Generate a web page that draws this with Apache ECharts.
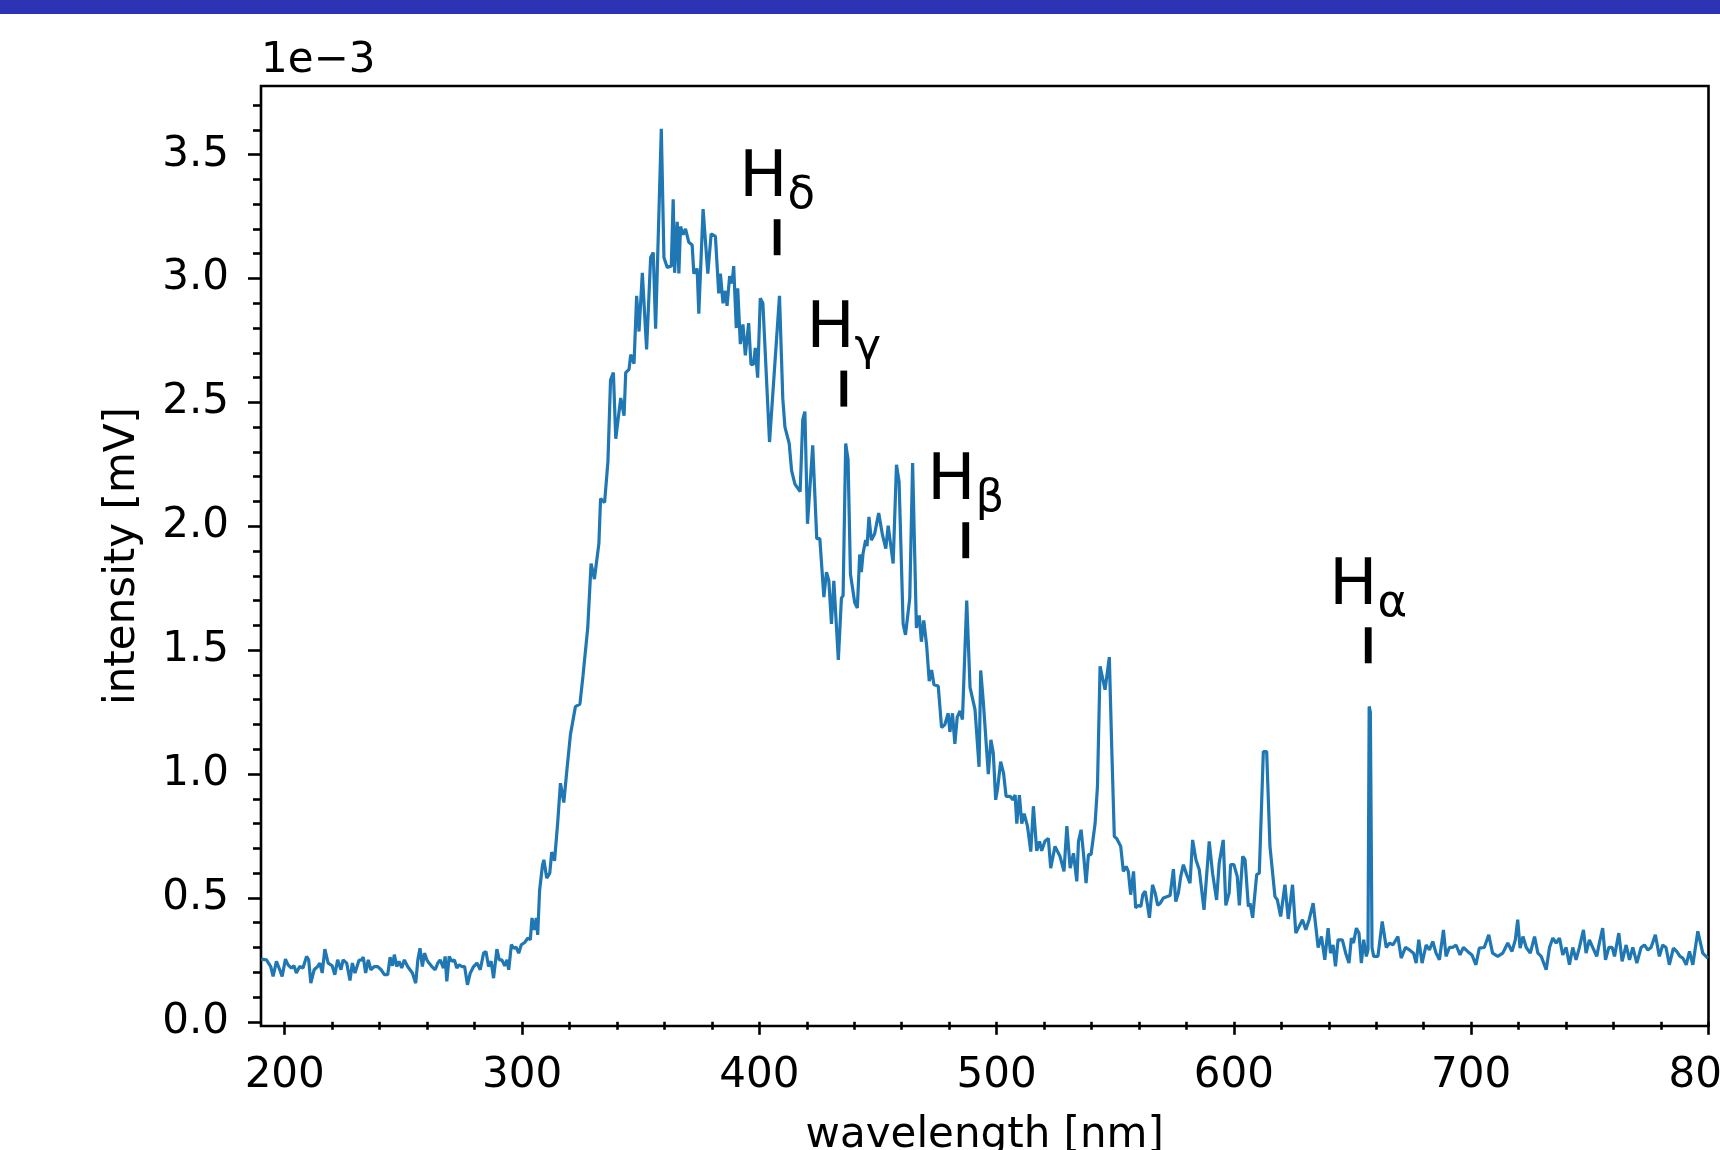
<!DOCTYPE html>
<html><head><meta charset="utf-8">
<script src="https://cdn.jsdelivr.net/npm/echarts@6/dist/echarts.min.js"></script>
<style>html,body{margin:0;padding:0;background:#fff}#c{width:1720px;height:1150px}</style>
</head><body><div id="c"></div>
<script>
// wavelength in nm
const wavelength = [
190.1,192.3,194.1,195.1,196.5,197.9,198.9,200.3,201.4,202.8,
203.9,204.9,206.3,207.7,209.2,210.1,211.0,212.4,213.8,214.8,
215.8,216.9,218.3,220.0,221.1,222.3,223.7,224.6,226.1,227.5,
228.5,229.6,231.3,232.4,233.1,234.1,235.2,236.3,237.7,239.2,
240.6,242.0,243.4,244.4,245.4,246.2,247.2,248.2,249.3,250.4,
251.8,252.8,253.8,255.2,256.1,257.0,258.0,258.9,259.9,260.8,
262.0,263.4,264.5,265.5,266.9,267.6,268.3,269.3,270.4,271.5,
272.5,273.5,274.6,275.8,277.0,278.2,279.6,281.0,282.4,283.8,
284.8,285.9,287.0,288.0,289.4,290.4,291.5,292.7,293.7,294.4,
295.5,296.5,297.5,298.6,299.7,301.1,302.5,303.5,304.2,305.2,
306.0,306.6,307.4,308.6,309.2,310.4,311.7,312.5,313.7,315.0,
316.2,317.6,319.0,320.4,322.5,324.4,325.7,327.7,329.1,330.5,
332.4,333.1,334.8,336.2,337.3,338.5,339.5,341.6,343.0,343.7,
345.1,345.8,347.2,348.3,349.3,350.7,352.5,354.2,355.3,356.3,
358.7,359.8,361.2,362.9,363.7,364.3,365.4,366.1,366.8,367.9,
368.9,370.3,371.7,372.4,373.8,374.5,376.3,378.3,379.7,381.5,
382.9,383.6,384.7,385.7,386.4,387.5,388.5,389.2,390.3,390.9,
392.0,393.1,394.1,395.5,396.5,397.6,398.3,399.3,400.4,401.5,
404.3,408.5,409.9,410.8,412.6,413.6,415.0,417.2,418.3,419.2,
420.3,422.5,424.2,425.5,427.2,428.3,429.3,430.4,431.4,433.3,
434.6,435.3,436.4,437.4,438.4,440.2,441.3,442.3,443.0,443.7,
444.8,445.4,446.2,447.2,448.6,450.3,451.9,453.3,454.3,455.2,
456.4,457.8,458.9,460.6,461.6,463.4,464.6,465.5,466.2,467.4,
468.3,469.3,470.5,471.6,472.6,473.6,475.4,476.8,478.2,479.6,
480.3,481.4,482.4,483.4,484.6,485.6,487.4,488.8,490.9,492.6,
493.3,494.4,496.5,497.6,498.6,499.6,500.4,501.7,502.9,504.0,
505.7,506.8,507.8,508.5,509.6,510.6,511.6,513.0,514.4,515.5,
516.9,518.1,519.0,520.4,521.8,522.8,524.6,526.7,528.4,529.6,
531.0,532.4,533.8,534.5,535.6,536.6,537.7,538.7,539.8,541.5,
542.5,543.6,545.7,547.5,548.5,549.6,550.6,552.3,553.4,554.6,
555.5,556.5,557.7,558.6,559.8,560.8,561.6,562.6,563.6,564.4,
565.7,566.8,567.9,568.9,570.3,571.7,573.1,574.5,575.5,576.6,
577.6,578.7,580.1,581.5,582.6,584.0,585.4,587.4,589.6,591.0,
592.7,593.8,595.5,596.6,598.0,598.6,600.0,601.4,602.3,603.7,
604.7,606.1,606.8,607.9,609.6,610.7,612.4,613.8,615.2,617.3,
618.3,619.7,621.5,622.9,624.7,626.1,627.5,628.9,630.3,631.7,
633.4,634.5,635.5,636.9,638.3,639.7,640.7,641.8,642.8,643.9,
645.7,647.1,648.5,649.5,650.4,651.6,652.7,653.7,654.7,655.8,
656.5,657.0,657.5,658.2,658.9,660.7,
662.5,664.2,665.6,667.0,669.1,670.5,672.3,674.0,675.7,676.8,
677.9,679.3,681.0,682.4,683.8,685.2,686.6,688.3,689.4,690.8,
692.2,693.6,695.3,696.7,698.5,700.3,702.0,703.4,705.5,707.4,
709.0,711.2,713.3,715.4,717.2,718.6,719.6,720.6,721.8,723.2,
724.9,726.7,728.1,729.5,731.6,733.0,734.4,735.8,737.2,738.6,
740.0,741.4,742.8,744.2,745.6,747.3,748.4,749.8,751.2,752.9,
754.0,755.4,756.6,758.0,759.4,760.4,762.2,763.6,765.3,766.7,
768.1,769.8,771.6,773.0,774.4,775.8,777.6,779.3,780.7,782.1,
783.5,785.2,786.6,788.0,789.2,790.6,792.0,793.4,795.5,797.6,
799.7
];
// intensity in units of 1e-3 mV
const intensity = [
0.253,0.250,0.223,0.183,0.244,0.210,0.183,0.253,0.230,0.217,
0.226,0.197,0.223,0.217,0.264,0.250,0.156,0.210,0.223,0.237,
0.197,0.293,0.237,0.226,0.190,0.250,0.210,0.250,0.237,0.167,
0.237,0.197,0.248,0.250,0.261,0.197,0.250,0.210,0.223,0.223,
0.210,0.190,0.190,0.261,0.226,0.271,0.223,0.244,0.217,0.250,
0.223,0.210,0.197,0.156,0.250,0.297,0.223,0.277,0.250,0.237,
0.223,0.210,0.237,0.250,0.217,0.264,0.163,0.264,0.244,0.250,
0.217,0.230,0.223,0.223,0.149,0.197,0.223,0.237,0.210,0.277,
0.284,0.223,0.244,0.176,0.293,0.250,0.250,0.226,0.250,0.210,
0.311,0.297,0.301,0.277,0.311,0.320,0.338,0.331,0.419,0.371,
0.419,0.351,0.530,0.630,0.654,0.580,0.600,0.685,0.650,0.800,
0.963,0.885,1.025,1.159,1.272,1.282,1.397,1.591,1.849,1.787,
1.931,2.112,2.096,2.261,2.590,2.620,2.353,2.518,2.446,2.620,
2.633,2.693,2.656,2.930,2.786,3.023,2.714,3.085,3.105,2.797,
3.604,3.085,3.044,3.050,3.320,3.023,3.229,3.020,3.210,3.177,
3.200,3.146,3.135,3.020,3.040,2.858,3.280,3.020,3.180,3.170,
2.940,3.020,2.900,2.950,2.890,3.010,2.980,3.050,2.800,2.960,
2.735,2.815,2.690,2.820,2.652,2.655,2.720,2.600,2.920,2.900,
2.340,2.930,2.514,2.400,2.334,2.225,2.170,2.140,2.430,2.463,
2.010,2.327,1.950,1.950,1.714,1.815,1.780,1.606,1.780,1.461,
1.710,1.720,2.334,2.269,1.807,1.692,1.670,1.886,1.815,1.890,
1.944,1.920,2.038,1.944,1.970,2.053,1.965,1.910,2.002,1.937,
1.850,2.248,2.180,1.606,1.562,1.710,2.255,1.880,1.590,1.640,
1.534,1.620,1.520,1.375,1.420,1.360,1.355,1.188,1.200,1.245,
1.170,1.245,1.122,1.230,1.255,1.220,1.700,1.350,1.260,1.029,
1.418,1.290,1.000,1.138,1.085,0.896,0.940,1.050,1.005,0.910,
0.910,0.896,0.915,0.800,0.915,0.800,0.840,0.790,0.687,0.870,
0.690,0.728,0.690,0.730,0.740,0.620,0.708,0.668,0.607,0.790,
0.620,0.680,0.567,0.728,0.775,0.680,0.560,0.675,0.675,0.800,
0.950,1.435,1.340,1.472,1.111,0.748,0.740,0.708,0.607,0.627,
0.607,0.513,0.607,0.460,0.470,0.465,0.513,0.527,0.470,0.420,
0.553,0.520,0.470,0.478,0.500,0.505,0.510,0.616,0.485,0.520,
0.587,0.634,0.594,0.560,0.734,0.654,0.614,0.452,0.728,0.600,
0.492,0.640,0.734,0.470,0.520,0.634,0.634,0.587,0.470,0.668,
0.654,0.465,0.478,0.420,0.594,0.600,1.091,1.091,0.708,0.505,
0.492,0.425,0.553,0.415,0.553,0.358,0.385,0.412,0.371,0.412,
0.479,0.385,0.300,0.344,0.250,0.378,0.277,0.310,0.224,0.331,
0.331,0.277,0.237,0.338,0.318,0.378,0.358,0.237,0.331,0.264,
0.290,1.273,1.250,0.300,0.264,0.264,
0.405,0.300,0.318,0.310,0.344,0.257,0.300,0.290,0.277,0.237,
0.331,0.237,0.310,0.290,0.324,0.277,0.250,0.371,0.264,0.300,
0.300,0.310,0.270,0.300,0.284,0.270,0.230,0.297,0.300,0.351,
0.277,0.264,0.277,0.318,0.284,0.331,0.412,0.297,0.344,0.300,
0.277,0.344,0.277,0.264,0.210,0.300,0.338,0.318,0.338,0.270,
0.300,0.230,0.300,0.250,0.300,0.371,0.277,0.331,0.300,0.264,
0.318,0.378,0.250,0.300,0.300,0.264,0.358,0.244,0.310,0.250,
0.300,0.237,0.300,0.310,0.290,0.300,0.351,0.264,0.310,0.300,
0.230,0.297,0.284,0.264,0.257,0.230,0.284,0.230,0.365,0.277,
0.257
];
// Balmer line annotations
const lineNames = ['δ', 'γ', 'β', 'α'];
const lineWavelength = [407.5, 435.6, 487.0, 656.6];
const lineMarkBase = [3.094, 2.483, 1.871, 1.447];
// ticks
const xMajorTicks = [200, 300, 400, 500, 600, 700, 800];
const xMinorTicks = [220,240,260,280,320,340,360,380,420,440,460,480,520,540,560,580,620,640,660,680,720,740,760,780];
const yMajorTicks = [0, 0.5, 1.0, 1.5, 2.0, 2.5, 3.0, 3.5];
const yMinorTicks = [0.1,0.2,0.3,0.4,0.6,0.7,0.8,0.9,1.1,1.2,1.3,1.4,1.6,1.7,1.8,1.9,2.1,2.2,2.3,2.4,2.6,2.7,2.8,2.9,3.1,3.2,3.3,3.4,3.6,3.7];

const FONT = 'DejaVu Sans';
const tickStyle = {color: '#000', width: 2.6};
const chart = echarts.init(document.getElementById('c'), null, {renderer: 'canvas'});
const option = {
  animation: false,
  backgroundColor: '#fff',
  textStyle: {fontFamily: FONT},
  grid: {left: 261, right: 11.5, top: 86, bottom: 124, containLabel: false, outerBoundsMode: 'none',
         show: true, borderColor: '#000', borderWidth: 2.6, backgroundColor: 'rgba(0,0,0,0)'},
  xAxis: [
    {type: 'value', min: 190, max: 800, axisLine: {show: false}, splitLine: {show: false},
     axisTick: {show: true, customValues: xMajorTicks, length: 13, lineStyle: tickStyle},
     axisLabel: {show: true, customValues: xMajorTicks, margin: 29, fontSize: 42, color: '#000', fontFamily: FONT, formatter: v => String(v)},
     name: 'wavelength [nm]', nameLocation: 'middle', nameGap: 89,
     nameTextStyle: {fontSize: 42, color: '#000', fontFamily: FONT}},
    {type: 'value', min: 190, max: 800, position: 'bottom', axisLine: {show: false}, splitLine: {show: false},
     axisTick: {show: true, customValues: xMinorTicks, length: 8, lineStyle: tickStyle},
     axisLabel: {show: false}}
  ],
  yAxis: [
    {type: 'value', min: -0.017, max: 3.777, axisLine: {show: false}, splitLine: {show: false},
     axisTick: {show: true, customValues: yMajorTicks, length: 13, lineStyle: tickStyle},
     axisLabel: {show: true, customValues: yMajorTicks, margin: 32, fontSize: 42, color: '#000', fontFamily: FONT, formatter: v => Number(v).toFixed(1)},
     name: 'intensity [mV]', nameLocation: 'middle', nameRotate: 90, nameGap: 117,
     nameTextStyle: {fontSize: 42, color: '#000', fontFamily: FONT}},
    {type: 'value', min: -0.017, max: 3.777, position: 'left', axisLine: {show: false}, splitLine: {show: false},
     axisTick: {show: true, customValues: yMinorTicks, length: 8, lineStyle: tickStyle},
     axisLabel: {show: false}}
  ],
  graphic: [
    {type: 'rect', shape: {x: 0, y: 0, width: 1720, height: 14}, style: {fill: '#2c33b5'}, z: 100},
    {type: 'text', x: 261, y: 61.5, style: {text: '1e\u22123', fontSize: 42, fontFamily: FONT, fill: '#000', align: 'left', verticalAlign: 'middle'}}
  ],
  series: [
    {type: 'line', xAxisIndex: 0, yAxisIndex: 0, showSymbol: false, silent: true,
     data: wavelength.map((w, i) => [w, intensity[i]]),
     lineStyle: {color: '#1f77b4', width: 3.2}, itemStyle: {color: '#1f77b4'}},
    {type: 'scatter', xAxisIndex: 0, yAxisIndex: 0, silent: true,
     data: lineWavelength.map((w, i) => [w, lineMarkBase[i]]),
     symbol: 'rect', symbolSize: [6.8, 36], symbolOffset: [0, '-50%'],
     itemStyle: {color: '#000', opacity: 1},
     label: {show: true, position: 'top', distance: 0, color: '#000', opacity: 1, textBorderWidth: 0,
       formatter: p => '{h|H}{s|' + lineNames[p.dataIndex] + '}',
       rich: {
         h: {fontSize: 64, lineHeight: 80, fontFamily: FONT, color: '#000'},
         s: {fontSize: 45, lineHeight: 33, fontFamily: FONT, color: '#000', verticalAlign: 'bottom'}
       }}}
  ]
};
chart.setOption(option);
</script></body></html>
